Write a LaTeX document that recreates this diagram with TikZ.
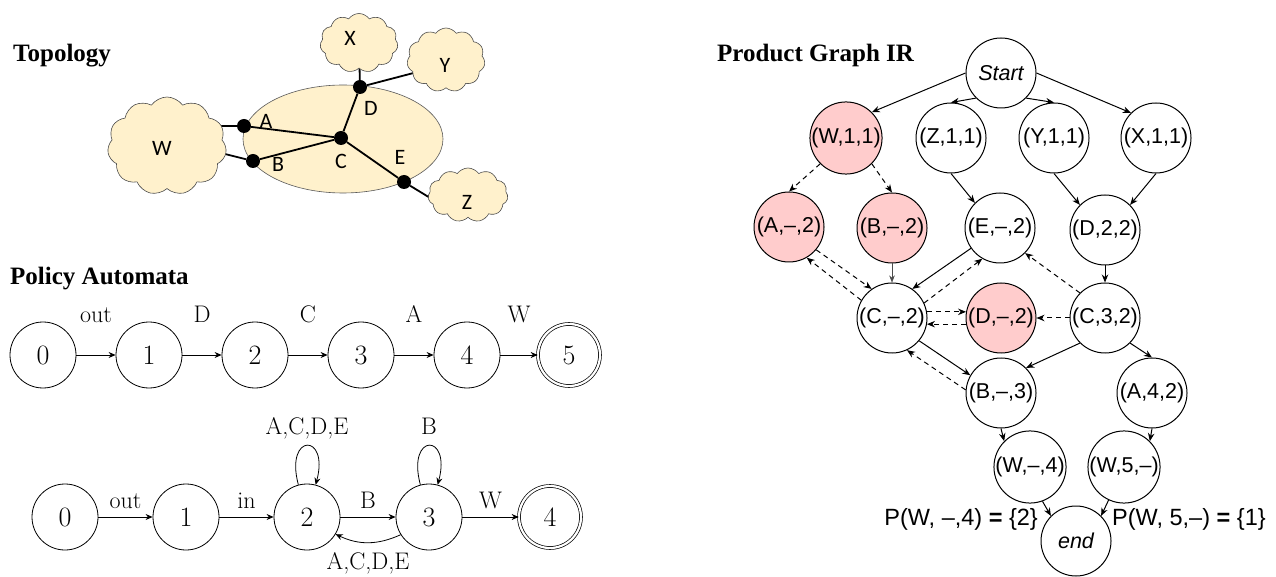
\documentclass[tikz,border=0pt]{standalone}
\usepackage{fontspec}
\newfontfamily\titlefont{Liberation Serif}
\newfontfamily\pgfont{Liberation Sans}
\newfontfamily\topofont{Carlito}
\usetikzlibrary{shapes.symbols,shapes.geometric,arrows.meta}
\definecolor{topyellow}{RGB}{255,241,204}
\definecolor{pinkfill}{RGB}{255,204,204}
\begin{document}
\begin{tikzpicture}[x=1pt,y=1pt,
  titletext/.style={anchor=base west, inner sep=0, font=\titlefont\bfseries\fontsize{25}{30}\selectfont},
  dotnode/.style={circle, fill=black, minimum size=14pt, inner sep=0},
  toplbl/.style={inner sep=0, font=\topofont\fontsize{22}{26}\selectfont},
  cloudnode/.style={cloud, cloud puffs=11, cloud puff arc=110, cloud ignores aspect, draw=black!70, fill=topyellow, line width=0.6pt, inner sep=0},
  link/.style={line width=1.8pt},
  state/.style={circle, draw, line width=0.8pt, minimum size=66pt, inner sep=0, font=\fontsize{28}{32}\selectfont},
  accept/.style={state, double, double distance=2.2pt, line width=0.7pt, minimum size=62pt},
  autoarrow/.style={line width=0.8pt, -{Stealth[length=7pt,width=6pt]}},
  lblone/.style={midway, anchor=base, yshift=32pt, inner sep=0, font=\fontsize{24}{28}\selectfont},
  lbltwo/.style={midway, anchor=base, yshift=9pt, inner sep=0, font=\fontsize{24}{28}\selectfont},
  pg/.style={circle, draw, line width=1pt, minimum size=70pt, inner sep=0, font=\pgfont\fontsize{21.5}{25}\selectfont},
  pgpink/.style={pg, fill=pinkfill},
  pgarrow/.style={line width=1pt, -{Stealth[length=8pt,width=6.5pt]}},
  pgdash/.style={pgarrow, dash pattern=on 5pt off 4pt},
  pgthin/.style={line width=0.5pt, black!70, -{Stealth[length=7pt,width=5.5pt]}},
  plabel/.style={inner sep=0, font=\pgfont\fontsize{23.5}{28}\selectfont}
]
\useasboundingbox (0,0) rectangle (1276,576);

% ---------------- Topology ----------------
\node[titletext] (ttopo) at (13,514) {Topology};
\node[draw=black!65, fill=topyellow, ellipse, minimum width=200pt, minimum height=108pt, line width=0.6pt, inner sep=0] (core) at (343,437) {};

\node[dotnode] (A) at (244,450) {};
\node[dotnode] (B) at (253,415) {};
\node[dotnode] (C) at (341,438) {};
\node[dotnode] (D) at (360,489) {};
\node[dotnode] (E) at (404,394) {};

\coordinate (wa) at (200,450);
\coordinate (wb) at (205,427);
\coordinate (dx) at (359,530);
\coordinate (dy) at (425,506);
\coordinate (ez) at (445,369);

\draw[link] (A) -- (wa);
\draw[link] (B) -- (wb);
\draw[link] (A) -- (C);
\draw[link] (B) -- (C);
\draw[link] (C) -- (D);
\draw[link] (C) -- (E);
\draw[link] (D) -- (dx);
\draw[link] (D) -- (dy);
\draw[link] (E) -- (ez);

\node[cloudnode, minimum width=119pt, minimum height=98pt] (W) at (167,430) {};
\node[cloudnode, minimum width=78pt, minimum height=59pt] (X) at (359,533) {};
\node[cloudnode, minimum width=78pt, minimum height=64pt] (Y) at (446,516) {};
\node[cloudnode, minimum width=80pt, minimum height=54pt] (Z) at (468,381) {};

\node[toplbl] (lA) at (266,455) {A};
\node[toplbl] (lB) at (278,412) {B};
\node[toplbl] (lC) at (341,415) {C};
\node[toplbl] (lD) at (371,468) {D};
\node[toplbl] (lE) at (400,419) {E};
\node[toplbl] (lW) at (162,428) {W};
\node[toplbl] (lX) at (350,538) {X};
\node[toplbl] (lY) at (445,511) {Y};
\node[toplbl] (lZ) at (467,374) {Z};

% ---------------- Policy Automata ----------------
\node[titletext] (tpol) at (10,291) {Policy Automata};

\node[state] (p0) at (43,221) {0};
\node[state] (p1) at (149,221) {1};
\node[state] (p2) at (255,221) {2};
\node[state] (p3) at (361,221) {3};
\node[state] (p4) at (467,221) {4};
\node[accept] (p5) at (569,221) {5};
\draw[autoarrow] (p0) -- node[lblone] {out} (p1);
\draw[autoarrow] (p1) -- node[lblone] {D} (p2);
\draw[autoarrow] (p2) -- node[lblone] {C} (p3);
\draw[autoarrow] (p3) -- node[lblone] {A} (p4);
\draw[autoarrow] (p4) -- node[lblone] {W} (p5);

\node[state] (q0) at (65,59) {0};
\node[state] (q1) at (186,59) {1};
\node[state] (q2) at (307,59) {2};
\node[state] (q3) at (429,59) {3};
\node[accept] (q4) at (550,59) {4};
\draw[autoarrow] (q0) -- node[lbltwo] {out} (q1);
\draw[autoarrow] (q1) -- node[lbltwo] {in} (q2);
\draw[autoarrow] (q2) -- node[lbltwo] {B} (q3);
\draw[autoarrow] (q3) -- node[lbltwo] {W} (q4);
\draw[autoarrow] (q2) to[loop above] node[midway, anchor=base, yshift=11pt, inner sep=0, font=\fontsize{24}{28}\selectfont] {A,C,D,E} (q2);
\draw[autoarrow] (q3) to[loop above] node[midway, anchor=base, yshift=11pt, inner sep=0, font=\fontsize{24}{28}\selectfont] {B} (q3);
\draw[autoarrow] (q3.212) to[bend left=25] node[midway, anchor=base, yshift=-27pt, inner sep=0, font=\fontsize{24}{28}\selectfont] {A,C,D,E} (q2.329);

% ---------------- Product Graph IR ----------------
\node[titletext] (tprod) at (717,514) {Product Graph IR};

\node[pg] (start) at (1001,503) {\itshape Start};
\node[pgpink] (w11) at (846,438) {(W,1,1)};
\node[pg] (z11) at (951,438) {(Z,1,1)};
\node[pg] (y11) at (1054,438) {(Y,1,1)};
\node[pg] (x11) at (1156,438) {(X,1,1)};
\node[pgpink] (a2) at (789,349) {(A,–,2)};
\node[pgpink] (b2) at (892,348) {(B,–,2)};
\node[pg] (e2) at (1000,348) {(E,–,2)};
\node[pg] (d22) at (1105,346) {(D,2,2)};
\node[pg] (c2) at (892,258) {(C,–,2)};
\node[pgpink] (d2) at (1001,258) {(D,–,2)};
\node[pg] (c32) at (1105,258) {(C,3,2)};
\node[pg] (b3) at (1001,183) {(B,–,3)};
\node[pg] (a42) at (1152,183) {(A,4,2)};
\node[pg] (w4) at (1030,109) {(W,–,4)};
\node[pg] (w5) at (1124,109) {(W,5,–)};
\node[pg] (end) at (1076,35) {\itshape end};

\node[plabel, anchor=base east] (pw4) at (1038,51) {P(W, –,4) \textbf{=} \{2\}};
\node[plabel, anchor=base west] (pw5) at (1112,51) {P(W, 5,–) \textbf{=} \{1\}};

\draw[pgarrow] (start.west) -- (w11.north east);
\draw[pgarrow] (start.south west) -- (z11.north);
\draw[pgarrow] (start.south east) -- (y11.north);
\draw[pgarrow] (start.east) -- (x11.north west);
\draw[pgarrow] (z11.south) -- (e2.north west);
\draw[pgarrow] (y11.south) -- (d22.north west);
\draw[pgarrow] (x11.south) -- (d22.north east);
\draw[pgarrow] (d22.south) -- (c32.north);
\draw[pgarrow] (e2.215) -- (c2.55);
\draw[pgarrow] (c2.320) -- (b3.150);
\draw[pgarrow] (c32.south west) -- (b3.north east);
\draw[pgarrow] (c32.south east) -- (a42.north);
\draw[pgarrow] (b3.south) -- (w4.north west);
\draw[pgarrow] (a42.south) -- (w5.north east);
\draw[pgarrow] (w4.290) -- (end.north west);
\draw[pgarrow] (w5.245) -- (end.north east);
\draw[pgthin] (b2.south) -- (c2.north);

\draw[pgdash] (w11.south west) -- (a2.north);
\draw[pgdash] (w11.south east) -- (b2.north);
\draw[pgdash] (a2.320) -- (c2.125);
\draw[pgdash] (c2.150) -- (a2.300);
\draw[pgdash] (c2.25) -- (e2.240);
\draw[pgdash] (c2.10) -- (d2.170);
\draw[pgdash] (d2.190) -- (c2.350);
\draw[pgdash] (c32.west) -- (d2.east);
\draw[pgdash] (c32.north west) -- (e2.south east);
\draw[pgdash] (b3.175) -- (c2.295);
\end{tikzpicture}
\end{document}
